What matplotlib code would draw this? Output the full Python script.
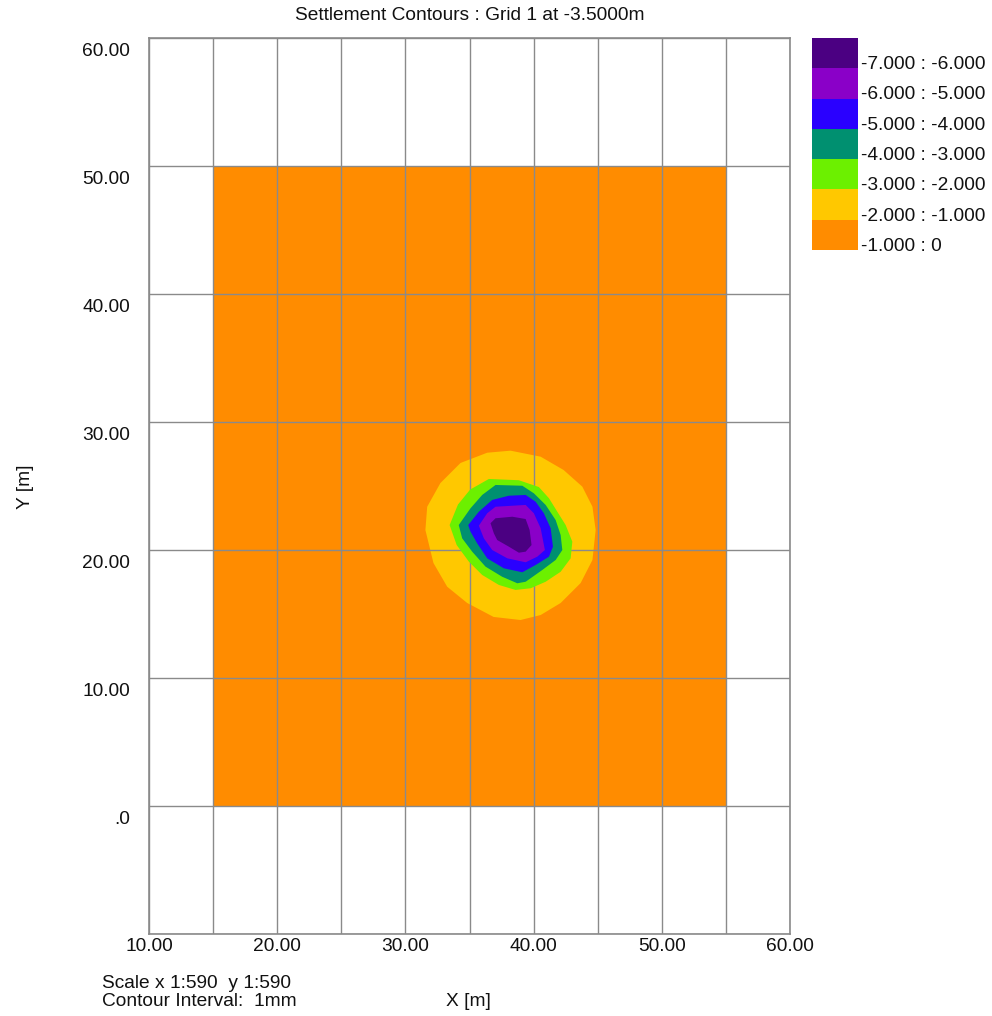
"""Settlement contours for Grid 1 at -3.5 m, redrawn as filled bands."""
import matplotlib
matplotlib.use("Agg")
import matplotlib.pyplot as plt
from matplotlib.transforms import ScaledTranslation

plt.rcParams["font.family"] = ["Liberation Sans", "DejaVu Sans"]
FS = 13.8

# site extent (m) -- the -1.000 : 0 band covers the whole grid
site_x = [15.0, 55.0, 55.0, 15.0]
site_y = [0.0, 0.0, 50.0, 50.0]

band_labels = ["-7.000 : -6.000", "-6.000 : -5.000", "-5.000 : -4.000",
               "-4.000 : -3.000", "-3.000 : -2.000", "-2.000 : -1.000",
               "-1.000 : 0"]
band_colors = ["#4b0082", "#8a00c8", "#2a00ff", "#009070",
               "#6cf000", "#ffc800", "#ff8c00"]

# contour outlines (x, y in m), outermost first
gold_x = [38.20, 40.55, 42.34, 43.80, 44.59, 44.84, 44.59, 43.67, 42.11, 40.55,
          38.98, 36.88, 34.82, 33.26, 32.19, 31.56, 31.70, 32.73, 34.30, 36.38]
gold_y = [27.76, 27.29, 26.25, 24.95, 23.38, 21.56, 19.22, 17.42, 15.86, 14.92,
          14.53, 14.77, 15.86, 17.13, 18.98, 21.56, 23.38, 25.23, 26.80, 27.60]

lime_x = [33.45, 34.10, 35.05, 36.51, 38.85, 40.41, 41.20, 41.85, 42.50, 43.02,
          42.89, 42.11, 40.94, 39.77, 38.59, 37.29, 35.99, 34.95, 34.00]
lime_y = [21.95, 23.55, 24.72, 25.55, 25.45, 24.92, 24.04, 22.99, 21.95, 20.65,
          19.35, 18.30, 17.52, 17.01, 16.88, 17.27, 18.05, 19.09, 20.39]

teal_x = [34.16, 35.08, 35.99, 37.03, 39.12, 40.02, 40.94, 41.72, 42.11, 42.24,
          41.72, 40.68, 39.38, 38.73, 37.55, 36.25, 35.21, 34.43]
teal_y = [21.95, 23.26, 24.30, 25.08, 25.02, 24.43, 23.52, 22.34, 21.17, 20.00,
          19.22, 18.44, 17.52, 17.40, 17.91, 18.70, 19.87, 20.91]

blue_x = [34.90, 35.73, 36.77, 38.07, 39.38, 40.16, 40.80, 41.33, 41.51, 41.20,
          40.16, 39.12, 37.68, 36.38, 35.60, 35.08]
blue_y = [21.95, 22.99, 23.91, 24.24, 24.30, 23.77, 22.87, 21.70, 20.26, 19.48,
          18.83, 18.26, 18.57, 19.35, 20.52, 21.43]

purple_x = [35.73, 36.38, 37.03, 39.38, 40.02, 40.55, 40.88, 40.29, 39.38, 37.95,
            36.77, 36.12]
purple_y = [21.90, 22.87, 23.38, 23.52, 22.87, 21.70, 20.00, 19.48, 19.04, 19.35,
            20.00, 20.91]

dark_x = [36.64, 37.03, 38.34, 39.38, 39.69, 39.84, 39.38, 38.85, 38.07, 37.16,
          36.90]
dark_y = [22.09, 22.48, 22.60, 22.42, 21.56, 20.39, 19.87, 19.79, 20.26, 20.78,
          21.30]

x_ticks = [10, 20, 30, 40, 50, 60]
x_ticklabels = ["10.00", "20.00", "30.00", "40.00", "50.00", "60.00"]
y_ticks = [0, 10, 20, 30, 40, 50, 60]
y_ticklabels = [".0", "10.00", "20.00", "30.00", "40.00", "50.00", "60.00"]

W, H = 992, 1016
fig = plt.figure(figsize=(W / 100, H / 100), dpi=100)
ax = fig.add_axes([149 / W, 1 - 934 / H, (790 - 149) / W, (934 - 38) / H])

ax.fill(site_x, site_y, color=band_colors[6], lw=0, zorder=1)
outlines = [(gold_x, gold_y), (lime_x, lime_y), (teal_x, teal_y),
            (blue_x, blue_y), (purple_x, purple_y), (dark_x, dark_y)]
for k, (px, py) in enumerate(outlines):
    ax.fill(px, py, color=band_colors[5 - k], lw=0, zorder=2 + k)

ax.set_xlim(10, 60)
ax.set_ylim(-10, 60)

# grid every 5 m in x, 10 m in y; labels only at 10 m
ax.set_xticks(range(10, 61, 5))
ax.set_xticklabels([lab for v in x_ticks for lab in (x_ticklabels[x_ticks.index(v)], "")][:-1])
ax.set_yticks(range(-10, 61, 10))
ax.set_yticklabels([""] + y_ticklabels)
ax.tick_params(length=0, labelsize=FS, colors="#111111")
ax.tick_params(axis="y", pad=13.5)
ax.tick_params(axis="x", pad=3)
ax.grid(True, color="#8a8a8a", lw=1.0)
ax.set_axisbelow(False)
for s in ax.spines.values():
    s.set_color("#8a8a8a")
    s.set_linewidth(1.2)

# y labels sit a little below their grid line
shift = ScaledTranslation(0, -11 / 100, fig.dpi_scale_trans)
for lab in ax.get_yticklabels():
    lab.set_transform(lab.get_transform() + shift)

fig.text(469.5 / W, 1 - 15 / H, "Settlement Contours : Grid 1 at -3.5000m",
         ha="center", va="center", fontsize=FS, color="#111111")
fig.text(25 / W, 1 - 487 / H, "Y [m]", rotation=90, ha="center", va="center",
         fontsize=FS, color="#111111")
fig.text(468 / W, 1 - 1001 / H, "X [m]", ha="center", va="center",
         fontsize=FS, color="#111111")
fig.text(102 / W, 1 - 983 / H, "Scale x 1:590  y 1:590", ha="left", va="center",
         fontsize=FS, color="#111111")
fig.text(102 / W, 1 - 1001 / H, "Contour Interval:  1mm", ha="left", va="center",
         fontsize=FS, color="#111111")

# colour key
lax = fig.add_axes([812 / W, 1 - 250 / H, 180 / W, 212 / H])
lax.set_xlim(0, 180)
lax.set_ylim(7, 0)
lax.barh(range(len(band_labels)), [46] * len(band_labels), height=1.0,
         left=0, align="edge", color=band_colors, lw=0)
for i, lab in enumerate(band_labels):
    lax.text(49, i + 0.88, lab, ha="left", va="center", fontsize=FS,
             color="#111111")
lax.axis("off")

fig.savefig("out.png", dpi=100)
